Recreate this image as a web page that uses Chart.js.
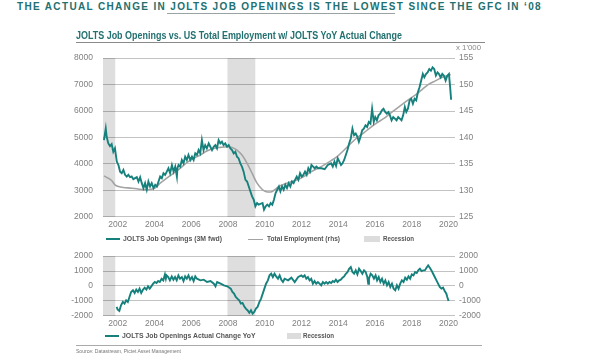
<!DOCTYPE html>
<html><head><meta charset="utf-8">
<script src="https://cdn.jsdelivr.net/npm/chart.js@4/dist/chart.umd.min.js"></script>
<style>
html,body{margin:0;padding:0;background:#fff}
body{width:600px;height:362px;overflow:hidden;position:relative;font-family:'Liberation Sans','DejaVu Sans',sans-serif}
.a{position:absolute;white-space:nowrap;line-height:1}
#head{left:17px;top:2px;font-weight:bold;font-size:10px;letter-spacing:0;color:#22706f}
#headLine{left:167px;top:13px;width:228px;height:0;border-top:1.5px solid #9aa3a3}
#title{left:76px;top:30px;font-size:11px;font-weight:bold;color:#22706f}
#titleLine{left:76px;top:42px;width:409px;border-top:1px solid #8a8a8a}
#unit{left:456px;top:44px;font-size:7.5px;color:#8a8a8a;filter:grayscale(1)}
.leg{font-size:8px;font-weight:bold;color:#555;filter:grayscale(1)}
.ln{height:0}
#srcLine{left:76px;top:345px;width:406px;border-top:1.5px solid #aaa}
#src{left:76px;top:349px;font-size:5.2px;color:#777;filter:grayscale(1)}
canvas{position:absolute}
</style></head>
<body>
<div class="a" id="head">THE ACTUAL CHANGE IN JOLTS JOB OPENINGS IS THE LOWEST SINCE THE GFC IN ‘08</div>
<div class="a" id="headLine"></div>
<div class="a" id="title">JOLTS Job Openings vs. US Total Employment w/ JOLTS YoY Actual Change</div>
<div class="a" id="titleLine"></div>
<div class="a" id="unit">x 1'000</div>

<canvas id="c1" width="440" height="189" style="left:50px;top:43px"></canvas>

<div class="a ln" style="left:106px;top:238px;width:14px;border-top:2px solid #16807c"></div>
<div class="a leg" id="l1" style="left:123px;top:235px">JOLTS Job Openings (3M fwd)</div>
<div class="a ln" style="left:248px;top:238.5px;width:15px;border-top:1.5px solid #a3a3a3"></div>
<div class="a leg" id="l2" style="left:267px;top:235px">Total Employment (rhs)</div>
<div class="a" style="left:364px;top:236px;width:16px;height:6px;background:#dcdcdc"></div>
<div class="a leg" id="l3" style="left:383px;top:235px">Recession</div>

<canvas id="c2" width="440" height="90" style="left:50px;top:241px"></canvas>

<div class="a ln" style="left:105px;top:335px;width:14px;border-top:2px solid #16807c"></div>
<div class="a leg" id="l4" style="left:122px;top:332px">JOLTS Job Openings Actual Change YoY</div>
<div class="a" style="left:287px;top:333px;width:14px;height:6px;background:#dcdcdc"></div>
<div class="a leg" id="l5" style="left:303px;top:332px">Recession</div>

<div class="a" id="srcLine"></div>
<div class="a" id="src">Source: Datastream, Pictet Asset Management</div>

<script>
// ---------- DATA ----------
const yearTicks = [2002, 2004, 2006, 2008, 2010, 2012, 2014, 2016, 2018, 2020];
const openTicks = [2000, 3000, 4000, 5000, 6000, 7000, 8000];
const empTicks = [125, 130, 135, 140, 145, 150, 155];
const yoyTicks = [-2000, -1000, 0, 1000, 2000];
const recessions = [[2001.2, 2001.88], [2007.96, 2009.5]];

// JOLTS job openings (thousands, 3M fwd)
const openDates = [2001.25,2001.35,2001.40,2001.49,2001.58,2001.67,2001.76,2001.85,2001.95,2002.04,2002.13,2002.22,2002.31,2002.40,2002.49,2002.58,2002.67,2002.76,2002.85,2003.04,2003.13,2003.22,2003.31,2003.40,2003.49,2003.58,2003.67,2003.76,2003.85,2003.95,2004.04,2004.13,2004.22,2004.31,2004.40,2004.49,2004.58,2004.67,2004.76,2004.85,2004.95,2005.04,2005.13,2005.22,2005.25,2005.31,2005.40,2005.49,2005.58,2005.67,2005.76,2005.85,2005.95,2006.04,2006.13,2006.22,2006.31,2006.40,2006.49,2006.58,2006.67,2006.76,2006.85,2006.95,2007.04,2007.13,2007.22,2007.31,2007.40,2007.49,2007.58,2007.67,2007.76,2007.85,2007.95,2008.04,2008.13,2008.22,2008.31,2008.40,2008.49,2008.58,2008.67,2008.76,2008.85,2008.95,2009.04,2009.13,2009.22,2009.31,2009.40,2009.49,2009.58,2009.67,2009.88,2009.96,2010.05,2010.14,2010.23,2010.32,2010.41,2010.50,2010.59,2010.68,2010.77,2010.85,2010.94,2011.03,2011.12,2011.21,2011.30,2011.39,2011.48,2011.57,2011.65,2011.74,2011.83,2011.92,2012.01,2012.10,2012.19,2012.28,2012.37,2012.46,2012.54,2012.63,2012.72,2012.81,2012.90,2013.08,2013.26,2013.43,2013.61,2013.70,2013.79,2013.88,2013.97,2014.06,2014.15,2014.23,2014.32,2014.41,2014.50,2014.59,2014.68,2014.77,2014.86,2014.95,2015.04,2015.12,2015.21,2015.30,2015.39,2015.48,2015.57,2015.66,2015.75,2015.84,2015.93,2016.01,2016.10,2016.19,2016.28,2016.37,2016.46,2016.55,2016.64,2016.73,2016.81,2016.90,2016.99,2017.08,2017.17,2017.26,2017.35,2017.44,2017.53,2017.62,2017.70,2017.79,2017.88,2017.97,2018.06,2018.15,2018.24,2018.33,2018.42,2018.51,2018.60,2018.68,2018.77,2018.86,2018.95,2019.04,2019.13,2019.22,2019.31,2019.40,2019.48,2019.57,2019.66,2019.75,2019.84,2019.93,2020.02,2020.07,2020.14];
const openValues = [4900,5340,5025,4775,4675,4750,4460,4590,4090,3960,3710,3650,3775,3590,3525,3590,3500,3525,3425,3500,3337,3500,3275,3087,3275,3025,3337,3150,3275,3087,3212,3150,3337,3525,3462,3650,3590,3710,3840,3650,3960,3710,3900,3525,3840,3960,3900,4150,4025,4275,4150,4340,4150,4275,4150,4400,4340,4525,4400,4900,4525,4710,4590,4775,4650,4525,4650,4710,4590,4900,4775,4840,4710,4775,4650,4710,4590,4525,4400,4460,4275,4210,4025,3900,3710,3400,3337,3150,2960,2775,2650,2400,2525,2460,2525,2275,2400,2462,2400,2525,2462,2650,2900,3025,3150,2962,3150,3025,3212,3087,3275,3150,3337,3275,3400,3525,3400,3650,3525,3587,3712,3587,3837,3712,3962,3900,3837,3900,3837,3837,3800,3962,4025,3900,4087,3925,4212,4087,3962,4025,4150,4337,4525,4775,4962,5337,5087,5150,5025,4837,5025,5275,5337,5462,5400,5587,5525,6087,5587,5775,5650,5837,5900,6025,6087,5962,5900,5962,5837,5650,5775,5712,5650,5775,5712,5650,5837,6150,5962,6087,6400,6462,6275,6462,6400,6712,6900,7150,7400,7275,7400,7462,7587,7525,7650,7587,7337,7462,7400,7275,7400,7337,7150,7337,7400,7025,6425];

// US total employment (millions, rhs)
const empDates = [2001.25,2001.49,2001.67,2001.85,2002.04,2002.31,2002.67,2003.04,2003.40,2003.67,2003.95,2004.13,2004.31,2004.67,2005.04,2005.40,2005.76,2006.13,2006.49,2006.85,2007.22,2007.58,2007.95,2008.22,2008.49,2008.76,2009.04,2009.31,2009.58,2009.88,2010.05,2010.23,2010.41,2010.59,2010.77,2011.12,2011.48,2011.83,2012.19,2012.54,2012.90,2013.26,2013.61,2013.97,2014.32,2014.68,2015.04,2015.39,2015.75,2016.10,2016.46,2016.81,2017.17,2017.53,2017.88,2018.24,2018.60,2018.95,2019.31,2019.66,2020.02,2020.12];
const empValues = [132.75,132.31,131.88,131.06,130.75,130.56,130.44,130.31,130.13,130.13,130.31,130.75,131.38,132.31,133.25,134.19,135.25,136.06,136.69,137.44,137.94,138.13,138.25,138.13,137.63,136.69,135.13,133.25,131.38,130.13,129.81,129.69,129.81,130.25,130.75,131.25,131.69,132.13,132.75,133.56,134.19,134.88,135.63,136.5,137.63,138.88,140.0,140.88,141.88,142.75,143.56,144.5,145.44,146.38,147.31,148.13,149.19,150.13,150.75,151.38,151.75,151.9];

// JOLTS job openings actual change YoY (thousands)
const yoyDates = [2001.94,2002.00,2002.09,2002.18,2002.28,2002.37,2002.46,2002.55,2002.64,2002.73,2002.83,2002.92,2003.01,2003.10,2003.19,2003.28,2003.38,2003.47,2003.56,2003.65,2003.74,2003.83,2003.93,2004.02,2004.11,2004.20,2004.29,2004.39,2004.48,2004.57,2004.62,2004.66,2004.75,2004.84,2004.94,2005.03,2005.12,2005.21,2005.30,2005.39,2005.49,2005.58,2005.67,2005.76,2005.85,2005.94,2006.04,2006.13,2006.22,2006.31,2006.50,2006.68,2006.86,2007.05,2007.23,2007.32,2007.41,2007.60,2007.78,2007.96,2008.15,2008.24,2008.33,2008.42,2008.51,2008.61,2008.70,2008.79,2008.88,2008.97,2009.06,2009.16,2009.25,2009.34,2009.43,2009.52,2009.61,2009.71,2009.80,2009.89,2009.98,2010.07,2010.17,2010.26,2010.35,2010.44,2010.53,2010.62,2010.72,2010.81,2010.90,2010.99,2011.08,2011.27,2011.45,2011.63,2011.82,2011.99,2012.08,2012.17,2012.26,2012.35,2012.44,2012.53,2012.62,2012.71,2012.80,2012.89,2012.98,2013.07,2013.16,2013.25,2013.34,2013.43,2013.52,2013.61,2013.70,2013.78,2013.87,2013.96,2014.05,2014.14,2014.23,2014.32,2014.41,2014.50,2014.59,2014.68,2014.77,2014.86,2014.95,2015.04,2015.13,2015.22,2015.31,2015.40,2015.49,2015.58,2015.63,2015.67,2015.76,2015.85,2015.94,2016.03,2016.11,2016.20,2016.29,2016.38,2016.47,2016.56,2016.65,2016.74,2016.83,2016.92,2017.01,2017.10,2017.19,2017.28,2017.37,2017.46,2017.55,2017.64,2017.73,2017.82,2017.91,2018.00,2018.09,2018.18,2018.27,2018.35,2018.44,2018.53,2018.62,2018.71,2018.80,2018.89,2018.98,2019.07,2019.16,2019.25,2019.34,2019.43,2019.52,2019.61,2019.70,2019.79,2019.88,2019.93,2020.00];
const yoyValues = [-1400,-1576,-1665,-1288,-1066,-1177,-955,-1066,-733,-400,-289,-466,-244,-400,-178,-466,-244,-111,-244,-22,-178,-22,155,266,200,333,266,488,377,777,488,710,600,377,644,422,600,377,710,488,600,333,644,488,710,422,600,333,644,488,377,422,266,333,155,-22,266,155,44,-22,-178,-400,-511,-733,-844,-955,-1177,-1132,-1354,-1510,-1621,-1798,-1621,-1843,-1732,-1510,-1400,-1066,-844,-511,-178,155,377,710,821,600,821,644,488,710,422,266,488,377,555,266,600,710,600,710,488,600,377,488,155,333,155,266,155,44,266,155,266,155,266,200,333,266,422,266,377,422,555,644,821,932,1154,1265,932,821,1043,777,1154,999,821,1043,932,600,155,488,821,710,488,710,377,600,266,488,155,377,44,266,-67,155,-178,-289,44,-178,155,377,266,555,422,644,488,777,710,932,866,1043,1154,999,1043,1043,1221,1376,1221,1043,821,600,377,155,-67,-178,-111,-333,-511,-733,-999];

// ---------- TEXT FITTING (layout only) ----------
function fitScale(id, w) {
  const el = document.getElementById(id);
  const cw = el.getBoundingClientRect().width;
  el.style.transformOrigin = '0 50%';
  el.style.transform = 'scaleX(' + (w / cw) + ')';
  return w / cw;
}
(function () {
  const h = document.getElementById('head');
  const n = h.textContent.length;
  const nat = h.getBoundingClientRect().width;
  h.style.letterSpacing = ((525 - nat) / n) + 'px';
  fitScale('title', 326);
  const s = fitScale('l1', 99);
  fitScale('l2', 73);
  fitScale('l3', 31);
  const l4 = document.getElementById('l4');
  l4.style.transformOrigin = '0 50%';
  l4.style.transform = 'scaleX(' + s + ')';
  fitScale('l5', 31);
  fitScale('unit', 25);
  fitScale('src', 105);
})();

// ---------- STYLE ----------
const X_MIN = 2001.2, X_MAX = 2020.35;
const FONT = "'Liberation Sans','DejaVu Sans',sans-serif";
const TEAL = '#16807c', GREY = '#a3a3a3', REC = 'rgba(0,0,0,0.13)', GRID = '#c2c2c2', TICK = '#808080';
const pts = (xs, ys) => xs.map((x, i) => ({x, y: ys[i]}));
const fixTicks = arr => s => { s.ticks = arr.map(v => ({value: v})); };
const tickFont = {family: FONT, size: 8.5};

function xScale() {
  return {type: 'linear', min: X_MIN, max: X_MAX,
    grid: {display: false, drawTicks: false}, border: {display: false},
    afterBuildTicks: fixTicks(yearTicks),
    ticks: {callback: v => String(v), font: tickFont, color: TICK, padding: 3, maxRotation: 0, autoSkip: false},
    afterFit: s => { s.height = 15; }};
}
function yScale(pos, min, max, arr, grid, width, pad) {
  return {type: 'linear', position: pos, min, max,
    afterBuildTicks: fixTicks(arr),
    grid: grid ? {color: GRID, lineWidth: 1, drawTicks: false} : {display: false, drawTicks: false},
    border: {display: false},
    ticks: {callback: v => String(v), font: tickFont, color: TICK, padding: pad, autoSkip: false},
    afterFit: s => { s.width = width; }};
}
function recDatasets(top, axis) {
  return recessions.map(r => ({type: 'line', data: [{x: r[0], y: top}, {x: r[1], y: top}],
    yAxisID: axis, fill: 'start', backgroundColor: REC, borderWidth: 0, pointRadius: 0, order: 10}));
}
const common = {responsive: false, animation: false, devicePixelRatio: 1,
  plugins: {legend: {display: false}, tooltip: {enabled: false}},
  layout: {padding: {top: 5, left: 0, right: 0, bottom: 0}}};

new Chart(document.getElementById('c1'), {
  type: 'line',
  data: {datasets: [
    ...recDatasets(8000, 'y'),
    {data: pts(empDates, empValues), yAxisID: 'y2', borderColor: GREY, borderWidth: 1.6, pointRadius: 0, tension: 0.3, order: 2},
    {data: pts(openDates, openValues), yAxisID: 'y', borderColor: TEAL, borderWidth: 1.9, pointRadius: 0, tension: 0, order: 1}
  ]},
  options: {...common, scales: {
    x: xScale(),
    y: yScale('left', 2000, 8000, openTicks, true, 53, 10),
    y2: yScale('right', 125, 155, empTicks, false, 35, 4)
  }}
});

new Chart(document.getElementById('c2'), {
  type: 'line',
  data: {datasets: [
    ...recDatasets(2000, 'y'),
    {data: pts(yoyDates, yoyValues), yAxisID: 'y', borderColor: TEAL, borderWidth: 1.9, pointRadius: 0, tension: 0, order: 1}
  ]},
  options: {...common, scales: {
    x: xScale(),
    y: yScale('left', -2000, 2000, yoyTicks, true, 53, 10),
    y2: yScale('right', -2000, 2000, yoyTicks, false, 35, 4)
  }}
});
</script>
</body></html>
